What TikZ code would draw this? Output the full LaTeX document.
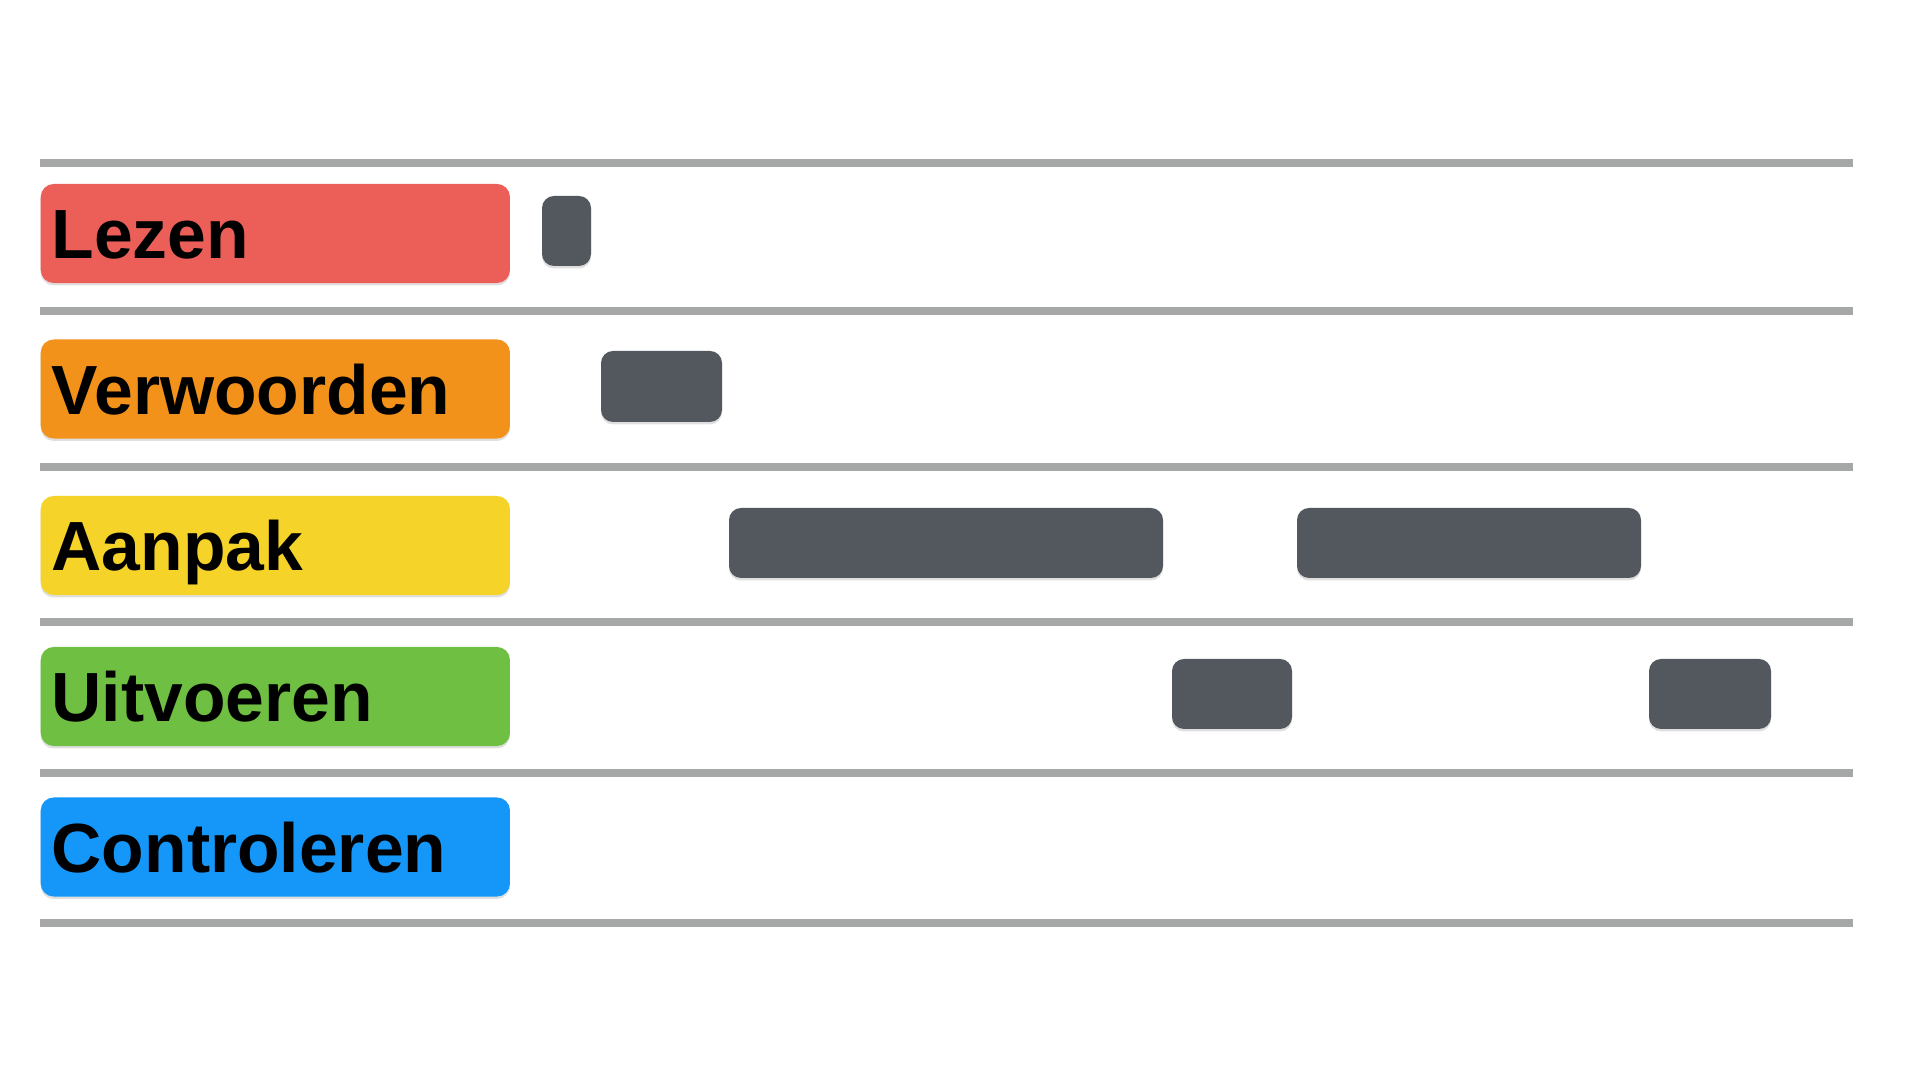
\documentclass[tikz,border=0pt]{standalone}
\usepackage{fontspec}
\setmainfont{Liberation Sans}
\usetikzlibrary{shadows}
\definecolor{lezen}{HTML}{EC5F59}
\definecolor{verwoorden}{HTML}{F3921B}
\definecolor{aanpak}{HTML}{F5D329}
\definecolor{uitvoeren}{HTML}{6FBF43}
\definecolor{controleren}{HTML}{1597FA}
\definecolor{balk}{HTML}{53575E}
\definecolor{lijn}{HTML}{A5A8A7}
\tikzset{
  fase/.style={anchor=west, rounded corners=0.13cm, minimum height=0.99cm,
    text width=4.47cm, inner xsep=0.11cm, inner ysep=0pt, align=left,
    text height=0.5cm, text depth=0pt,
    font=\fontsize{19.8}{20}\selectfont\bfseries,
    drop shadow={shadow xshift=0pt, shadow yshift=-0.7pt, opacity=0.25}},
  blok/.style={fill=balk, rounded corners=0.12cm,
    drop shadow={shadow xshift=0pt, shadow yshift=-0.7pt, opacity=0.25}},
  scheiding/.style={draw=lijn, line width=0.085cm}
}
\begin{document}
\begin{tikzpicture}[x=0.01cm,y=-0.01cm]
\useasboundingbox (0,0) rectangle (1920,1080);
% scheidingslijnen
\foreach \y in {163,311,467,622,773,923} \draw[scheiding] (40,\y) -- (1853,\y);
% fasen
\node[fase, fill=lezen] (lezen) at (40,233.5) {Lezen};
\node[fase, fill=verwoorden] (verwoorden) at (40,389) {Verwoorden};
\node[fase, fill=aanpak] (aanpak) at (40,545.5) {Aanpak};
\node[fase, fill=uitvoeren] (uitvoeren) at (40,696.5) {Uitvoeren};
\node[fase, fill=controleren] (controleren) at (40,847) {Controleren};
% tijdblokken
\foreach \xa/\ya/\xb/\yb in {542/196/591/266, 601/351/722/422,
    729/508/1163/578, 1297/508/1641/578, 1172/659/1292/729, 1649/659/1771/729}
  \fill[blok] (\xa,\ya) rectangle (\xb,\yb);
\end{tikzpicture}
\end{document}
